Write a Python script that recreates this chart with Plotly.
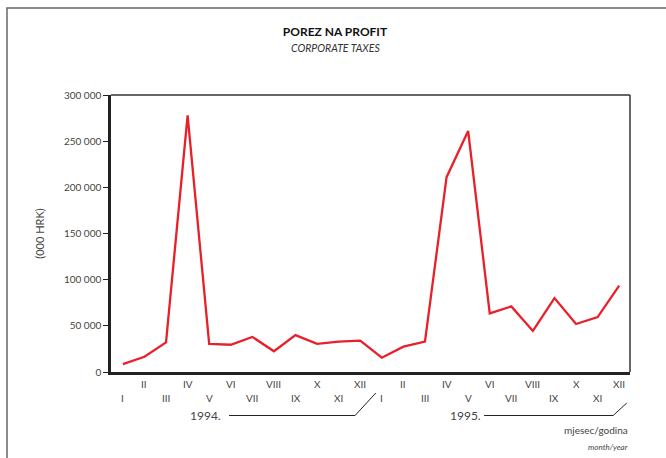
import plotly.graph_objects as go

months = ["I", "II", "III", "IV", "V", "VI", "VII", "VIII", "IX", "X", "XI", "XII"]
years = ["1994.", "1995."]
taxes_1994 = [8500, 16500, 32000, 278000, 30500, 29500, 38000, 22500, 40000, 30500, 33000, 34000]
taxes_1995 = [15500, 27500, 33000, 211000, 261000, 63500, 71000, 44500, 80000, 52000, 59500, 93500]
y_ticks = [0, 50000, 100000, 150000, 200000, 250000, 300000]

values = taxes_1994 + taxes_1995
labels = months + months
xs = list(range(len(values)))

FONT = "Lato"
GREY = "#444444"

fig = go.Figure()
fig.add_trace(go.Scatter(x=xs, y=values, mode="lines",
                         line=dict(color="#e8202a", width=2.3), hoverinfo="skip"))

ann = []
# month labels in two staggered rows
for i, lab in enumerate(labels):
    even = (i % 12) % 2 == 1
    ann.append(dict(x=i, y=-0.0433 if even else -0.094, xref="x", yref="paper",
                    text=lab, showarrow=False, font=dict(family=FONT, size=10, color=GREY),
                    xanchor="center", yanchor="middle"))

shapes = []
# year labels with brackets
year_cfg = [(3.85, 4.92, 10.76, 11.72, -0.0758), (15.86, 16.74, 22.72, 23.35, -0.112)]
for yr, (lx, x0, x1, x2, ytop) in zip(years, year_cfg):
    ann.append(dict(x=lx, y=-0.157, xref="x", yref="paper", text=yr, showarrow=False,
                    font=dict(family=FONT, size=12, color=GREY), xanchor="center", yanchor="middle"))
    shapes.append(dict(type="line", xref="x", yref="paper", x0=x0, x1=x1, y0=-0.157, y1=-0.157,
                       line=dict(color="#222", width=1)))
    shapes.append(dict(type="line", xref="x", yref="paper", x0=x1, x1=x2, y0=-0.157, y1=ytop,
                       line=dict(color="#222", width=1)))

ann.append(dict(x=1.0, y=-0.209, xref="paper", yref="paper", text="mjesec/godina", showarrow=False,
                font=dict(family=FONT, size=10, color=GREY), xanchor="right", yanchor="middle"))
ann.append(dict(x=1.0, y=-0.271, xref="paper", yref="paper", text="<i>month/year</i>", showarrow=False,
                font=dict(family=FONT, size=8, color=GREY), xanchor="right", yanchor="middle"))
ann.append(dict(x=0.4316, y=1.170, xref="paper", yref="paper", text="<i>CORPORATE TAXES</i>", showarrow=False,
                font=dict(family=FONT, size=10.5, color="#333"), xanchor="center", yanchor="middle"))

# outer frame
shapes.append(dict(type="rect", xref="paper", yref="paper", x0=-0.2004, x1=1.2, y0=-0.5, y1=1.314,
                   line=dict(color="#666", width=1.5), layer="below"))
# plot frame (top/right lighter)
shapes.append(dict(type="line", xref="paper", yref="paper", x0=0, x1=1, y0=1, y1=1,
                   line=dict(color="#333", width=1.5)))
shapes.append(dict(type="line", xref="paper", yref="paper", x0=1, x1=1, y0=0, y1=1,
                   line=dict(color="#333", width=1.5)))

fig.update_layout(
    width=666, height=458,
    margin=dict(l=111, r=36, t=95, b=86),
    paper_bgcolor="white", plot_bgcolor="white",
    showlegend=False,
    title=dict(text="<b>POREZ NA PROFIT</b>", x=335 / 666, xref="container", xanchor="center",
               y=1 - 32 / 458, yref="container", yanchor="middle",
               font=dict(family=FONT, size=12, color="#111")),
    xaxis=dict(range=[-0.55, 23.5], showticklabels=False, ticks="", showgrid=False, zeroline=False,
               showline=True, linecolor="#222", linewidth=2.5, fixedrange=True),
    yaxis=dict(range=[0, 300000], tickvals=y_ticks,
               ticktext=[f"{v:,}".replace(",", " ") for v in y_ticks],
               ticks="outside", ticklen=5, tickcolor="#222", tickwidth=1,
               showgrid=False, zeroline=False, showline=True, linecolor="#222", linewidth=2.5,
               tickfont=dict(family=FONT, size=10, color=GREY),
               title=dict(text="(000 HRK)", font=dict(family=FONT, size=11, color=GREY), standoff=18)),
    annotations=ann, shapes=shapes,
)
fig.write_html("out.html", config={"displayModeBar": False},
               post_script="document.body.style.margin='0';")
